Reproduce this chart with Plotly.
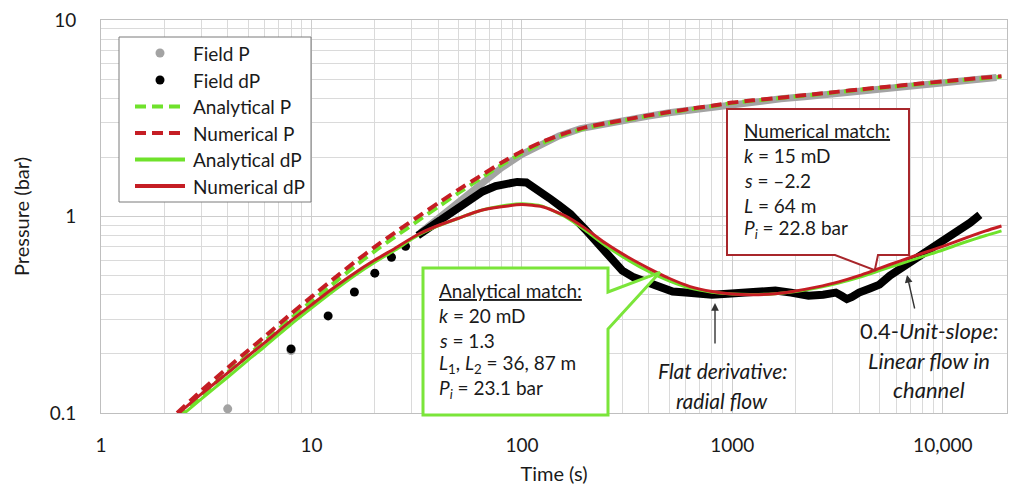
import math
import plotly.graph_objects as go

# ---- data -------------------------------------------------------------
# model curves (time in s, pressure in bar)
t_model = [2.3, 3, 4, 5, 6, 8, 10, 13, 16, 20,
           25, 32, 40, 50, 63, 80, 100, 125, 160, 200,
           250, 320, 400, 500, 630, 800, 1000, 1250, 1600, 2000,
           2500, 3200, 4000, 5000, 6300, 8000, 10000, 12500, 16000, 19000]

num_dP = [0.098, 0.125, 0.16, 0.195, 0.228, 0.295, 0.355, 0.44, 0.515, 0.6,
          0.69, 0.81, 0.9, 0.98, 1.07, 1.12, 1.15, 1.12, 1.01, 0.87,
          0.73, 0.62, 0.545, 0.485, 0.44, 0.415, 0.403, 0.4, 0.405, 0.418,
          0.437, 0.465, 0.5, 0.545, 0.595, 0.65, 0.705, 0.77, 0.845, 0.895]

ana_dP = [0.093, 0.118, 0.152, 0.186, 0.218, 0.283, 0.342, 0.425, 0.5, 0.585,
          0.675, 0.8, 0.895, 0.98, 1.07, 1.13, 1.16, 1.13, 1.0, 0.85,
          0.71, 0.6, 0.525, 0.47, 0.432, 0.412, 0.403, 0.401, 0.405, 0.415,
          0.432, 0.458, 0.49, 0.53, 0.575, 0.625, 0.675, 0.735, 0.8, 0.845]

num_P = [0.1, 0.13, 0.17, 0.208, 0.245, 0.32, 0.39, 0.49, 0.585, 0.7,
         0.83, 0.995, 1.17, 1.37, 1.6, 1.88, 2.15, 2.4, 2.65, 2.84,
         2.98, 3.13, 3.27, 3.4, 3.53, 3.66, 3.8, 3.9, 4.0, 4.1,
         4.2, 4.32, 4.43, 4.53, 4.64, 4.76, 4.87, 4.98, 5.1, 5.18]

ana_P = [0.095, 0.123, 0.161, 0.197, 0.232, 0.303, 0.37, 0.465, 0.556, 0.667,
         0.79, 0.95, 1.12, 1.32, 1.55, 1.83, 2.1, 2.36, 2.62, 2.81,
         2.96, 3.11, 3.25, 3.38, 3.51, 3.64, 3.78, 3.88, 3.98, 4.08,
         4.18, 4.3, 4.41, 4.51, 4.62, 4.73, 4.84, 4.95, 5.06, 5.14]

# field measurements: sparse early samples
field_t_early_P = [4, 8]
field_P_early = [0.105, 0.208]
field_t_early_dP = [8, 12, 16, 20, 24, 28]
field_dP_early = [0.212, 0.312, 0.413, 0.515, 0.62, 0.705]

# field measurements: dense record
field_t_P = [33, 38, 45, 55, 65, 80, 100, 125, 150, 190,
             250, 320, 400, 500, 650, 800, 1000, 1300, 1700, 2200,
             2800, 3500, 4500, 5600, 7000, 8800, 11000, 14000, 18000]
field_P = [0.83, 0.94, 1.09, 1.3, 1.5, 1.77, 2.07, 2.36, 2.57, 2.8,
           2.97, 3.12, 3.24, 3.37, 3.5, 3.62, 3.75, 3.86, 3.97, 4.07,
           4.18, 4.28, 4.39, 4.5, 4.61, 4.72, 4.84, 4.97, 5.1]

field_t_dP = [32, 36, 42, 49, 57, 65, 75, 85, 95, 105,
              118, 135, 150, 170, 200, 235, 270, 300, 340, 393,
              450, 520, 600, 700, 800, 950, 1100, 1350, 1600, 1900,
              2300, 2700, 3100, 3300, 3500, 3700, 4000, 4500, 5000, 5600,
              6250, 7000, 7800, 8800, 10400, 12000, 13500, 15000]
field_dP = [0.8, 0.87, 0.96, 1.08, 1.22, 1.34, 1.43, 1.48, 1.5, 1.49,
            1.38, 1.24, 1.14, 1.03, 0.86, 0.70, 0.59, 0.53, 0.49, 0.46,
            0.435, 0.415, 0.41, 0.405, 0.4, 0.405, 0.41, 0.42, 0.42, 0.41,
            0.395, 0.4, 0.41, 0.395, 0.38, 0.39, 0.41, 0.43, 0.45, 0.5,
            0.54, 0.58, 0.63, 0.69, 0.77, 0.85, 0.93, 1.02]

x_ticks = [1, 10, 100, 1000, 10000]
x_tick_text = ["1", "10", "100", "1000", "10,000"]
y_ticks = [0.1, 1, 10]
y_tick_text = ["0.1", "1", "10"]

series_names = ["Field P", "Field dP", "Analytical P", "Numerical P",
                "Analytical dP", "Numerical dP"]

# ---- style ------------------------------------------------------------
GREEN = "#6fe22b"
RED = "#c51d24"
GRAY = "#a3a3a3"
BLACK = "#000000"
TXT = "#1a1a1a"
FONT = "Lato"
DASH = "11px,6px"

W, H = 1012, 489
ML, MR, MT, MB = 101, 5, 20, 76
X_RANGE = [0, 4.305]
Y_RANGE = [-1, 1]
PW, PH = W - ML - MR, H - MT - MB


def px(x):
    """pixel column -> paper x"""
    return (x - ML) / PW


def py(y):
    """pixel row -> paper y"""
    return (H - MB - y) / PH


def data_to_paper(t, p):
    xp = (math.log10(t) - X_RANGE[0]) / (X_RANGE[1] - X_RANGE[0])
    yp = (math.log10(p) - Y_RANGE[0]) / (Y_RANGE[1] - Y_RANGE[0])
    return xp, yp


fig = go.Figure()

# field pressure
fig.add_trace(go.Scatter(x=field_t_P, y=field_P, mode="lines", name=series_names[0],
                         line=dict(color=GRAY, width=7)))
fig.add_trace(go.Scatter(x=field_t_early_P, y=field_P_early, mode="markers",
                         name=series_names[0], marker=dict(color=GRAY, size=9)))
# field derivative
fig.add_trace(go.Scatter(x=field_t_dP, y=field_dP, mode="lines", name=series_names[1],
                         line=dict(color=BLACK, width=8)))
fig.add_trace(go.Scatter(x=field_t_early_dP, y=field_dP_early, mode="markers",
                         name=series_names[1], marker=dict(color=BLACK, size=9)))
# model pressures
fig.add_trace(go.Scatter(x=t_model, y=ana_P, mode="lines", name=series_names[2],
                         line=dict(color=GREEN, width=4, dash=DASH,
                                   shape="spline", smoothing=0.6)))
fig.add_trace(go.Scatter(x=t_model, y=num_P, mode="lines", name=series_names[3],
                         line=dict(color=RED, width=4, dash=DASH,
                                   shape="spline", smoothing=0.6)))
# model derivatives
fig.add_trace(go.Scatter(x=t_model, y=ana_dP, mode="lines", name=series_names[4],
                         line=dict(color=GREEN, width=3, shape="spline", smoothing=0.6)))
fig.add_trace(go.Scatter(x=t_model, y=num_dP, mode="lines", name=series_names[5],
                         line=dict(color=RED, width=3, shape="spline", smoothing=0.6)))

shapes = []
annotations = []


def add_text(text, x, y, size=19, anchor="left"):
    annotations.append(dict(text=text, x=px(x), y=py(y), xref="paper", yref="paper",
                            xanchor=anchor, yanchor="middle", showarrow=False,
                            font=dict(family=FONT, size=size, color=TXT)))


# ---- legend box -------------------------------------------------------
shapes.append(dict(type="rect", xref="paper", yref="paper",
                   x0=px(119), x1=px(311), y0=py(37), y1=py(202),
                   fillcolor="white", line=dict(color="#7a7a7a", width=1), layer="above"))
legend_rows = [53, 80, 106.5, 133, 159.5, 186]
legend_style = [("marker", GRAY, None), ("marker", BLACK, None),
                ("line", GREEN, DASH), ("line", RED, DASH),
                ("line", GREEN, "solid"), ("line", RED, "solid")]
for name, row, (kind, color, dash) in zip(series_names, legend_rows, legend_style):
    if kind == "marker":
        r = 4.5
        shapes.append(dict(type="circle", xref="paper", yref="paper",
                           x0=px(160 - r), x1=px(160 + r), y0=py(row + r), y1=py(row - r),
                           fillcolor=color, line=dict(color=color, width=0), layer="above"))
    else:
        shapes.append(dict(type="line", xref="paper", yref="paper",
                           x0=px(135), x1=px(185), y0=py(row), y1=py(row),
                           line=dict(color=color, width=4, dash=dash), layer="above"))
    add_text(name, 191, row, size=19)


# ---- callout boxes ----------------------------------------------------
def path_from(points):
    parts = []
    for i, (x, y) in enumerate(points):
        parts.append(("M" if i == 0 else "L") + f"{x:.5f},{y:.5f}")
    return " ".join(parts) + " Z"


ana_tip = data_to_paper(453, 0.52)
ana_box = [(px(423), py(268)), (px(608), py(268)), (px(608), py(292)), ana_tip,
           (px(608), py(329)), (px(608), py(415)), (px(423), py(415))]

num_tip = data_to_paper(4750, 0.533)
num_box = [(px(727), py(109)), (px(909), py(109)), (px(909), py(255)),
           (px(878), py(255)), num_tip, (px(835), py(255)), (px(727), py(255))]

shapes += [
    dict(type="path", xref="paper", yref="paper", path=path_from(ana_box),
         fillcolor="white", line=dict(color="#7be53a", width=3), layer="above"),
    dict(type="path", xref="paper", yref="paper", path=path_from(num_box),
         fillcolor="white", line=dict(color="#a8262b", width=2), layer="above"),
]

ana_lines = ["<u>Analytical match:</u>",
             "<i>k</i> = 20 mD",
             "<i>s</i> = 1.3",
             "<i>L</i><sub>1</sub>, <i>L</i><sub>2</sub> = 36, 87 m",
             "<i>P</i><sub><i>i</i></sub> = 23.1 bar"]
for line, yy in zip(ana_lines, [290, 315, 340, 364, 389]):
    add_text(line, 437, yy, size=19)

num_lines = ["<u>Numerical match:</u>",
             "<i>k</i> = 15 mD",
             "<i>s</i> = \u20132.2",
             "<i>L</i> = 64 m",
             "<i>P</i><sub><i>i</i></sub> = 22.8 bar"]
for line, yy in zip(num_lines, [130, 155, 180, 205, 229]):
    add_text(line, 742, yy, size=19)

add_text("<i>Flat derivative:</i>", 722, 370, size=21, anchor="center")
add_text("<i>radial flow</i>", 722, 400, size=21, anchor="center")
add_text("0.4-<i>Unit-slope:</i>", 929, 330, size=22, anchor="center")
add_text("<i>Linear flow in</i>", 929, 360, size=22, anchor="center")
add_text("<i>channel</i>", 929, 389, size=22, anchor="center")

for tip, (ax, ay) in [((715, 303), (0, 42)), ((907, 275), (8, 35))]:
    annotations.append(dict(text="", x=px(tip[0]), y=py(tip[1]), xref="paper", yref="paper",
                            ax=ax, ay=ay, showarrow=True, arrowhead=2, arrowsize=1.1,
                            arrowwidth=1.4, arrowcolor="#333333"))

grid_major = "#cdcdcd"
grid_minor = "#dadada"

fig.update_layout(
    width=W, height=H,
    margin=dict(l=ML, r=MR, t=MT, b=MB),
    paper_bgcolor="white", plot_bgcolor="white",
    font=dict(family=FONT, size=19, color=TXT),
    showlegend=False,
    shapes=shapes,
    annotations=annotations,
    xaxis=dict(type="log", range=X_RANGE, tickvals=x_ticks, ticktext=x_tick_text,
               showgrid=True, gridcolor=grid_major, gridwidth=1,
               minor=dict(showgrid=True, gridcolor=grid_minor, dtick="D1", ticks=""),
               showline=True, linecolor="#bfbfbf", linewidth=1, mirror=True,
               ticks="", ticklabelstandoff=15, zeroline=False,
               tickfont=dict(family=FONT, size=19, color=TXT),
               title=dict(text="Time (s)", standoff=12,
                          font=dict(family=FONT, size=20, color=TXT))),
    yaxis=dict(type="log", range=Y_RANGE, tickvals=y_ticks, ticktext=y_tick_text,
               showgrid=True, gridcolor=grid_major, gridwidth=1,
               minor=dict(showgrid=True, gridcolor=grid_minor, dtick="D1", ticks=""),
               showline=True, linecolor="#bfbfbf", linewidth=1, mirror=True,
               ticks="", ticklabelstandoff=20, zeroline=False,
               tickfont=dict(family=FONT, size=19, color=TXT),
               title=dict(text="Pressure (bar)", standoff=14,
                          font=dict(family=FONT, size=20, color=TXT))),
)

fig.write_html("out.html")
